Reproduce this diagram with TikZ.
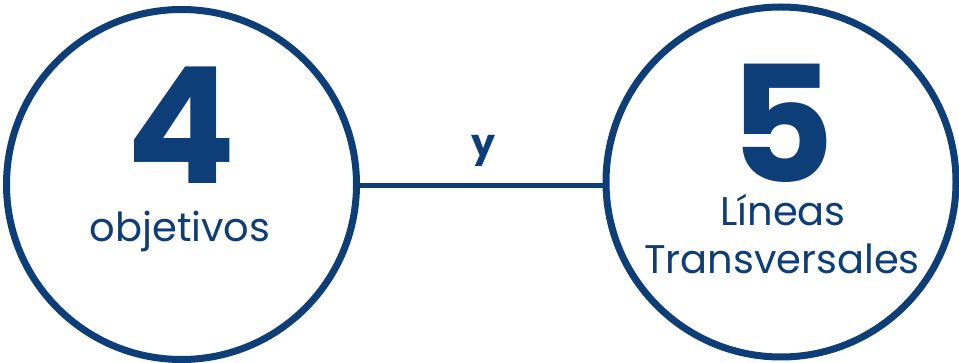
\documentclass[tikz,border=0pt]{standalone}
\usepackage{fontspec}
\setmainfont{Poppins}
\definecolor{navy}{RGB}{14,62,120}
\begin{document}
\begin{tikzpicture}[x=1pt,y=-1pt,
  ring/.style={draw=navy,line width=7pt,circle,minimum size=350pt,inner sep=0pt},
  bignum/.style={text=navy,font=\fontsize{162}{162}\selectfont\bfseries,anchor=base,inner sep=0pt},
  label/.style={text=navy,font=\fontsize{40}{40}\selectfont,anchor=base,inner sep=0pt},
  link/.style={draw=navy,line width=5pt}]
\useasboundingbox (0,0) rectangle (959,363);
\node[ring] (L) at (181.5,184.5) {};
\node[ring] (R) at (781,182) {};
\draw[link] (L.east |- 0,186) -- (R.west |- 0,186);
\node[bignum] (n4) at (181.5,184) {4};
\node[label] (t4) at (180,242) {objetivos};
\node[bignum] (n5) at (782,183) {5};
\node[label] (t5a) at (783,226) {Líneas};
\node[label] (t5b) at (782,274) {Transversales};
\node[label,font=\fontsize{38}{40}\selectfont\bfseries] (y) at (484,157) {y};
\end{tikzpicture}
\end{document}
